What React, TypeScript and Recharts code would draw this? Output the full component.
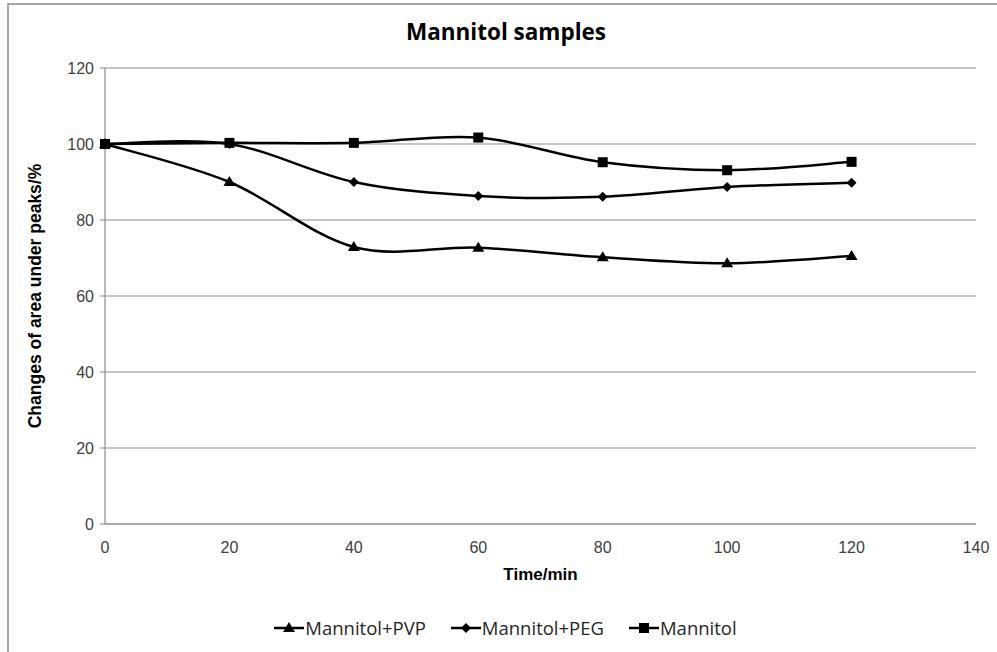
import React from "react";
import { CartesianGrid, Legend, Line, LineChart, XAxis, YAxis } from "recharts";

// time (min)
const times = [0, 20, 40, 60, 80, 100, 120];
// changes of area under peaks, %
const pvp = [100, 90, 72.9, 72.7, 70.2, 68.6, 70.5];
const peg = [100, 100, 90, 86.3, 86.1, 88.7, 89.8];
const mannitol = [100, 100.3, 100.3, 101.7, 95.2, 93.1, 95.3];
const xTicks = [0, 20, 40, 60, 80, 100, 120, 140];
const yTicks = [0, 20, 40, 60, 80, 100, 120];

const data = times.map((t, i) => ({ t, pvp: pvp[i], peg: peg[i], mannitol: mannitol[i] }));

const series = [
  { key: "pvp", name: "Mannitol+PVP", marker: "triangle" },
  { key: "peg", name: "Mannitol+PEG", marker: "diamond" },
  { key: "mannitol", name: "Mannitol", marker: "square" },
];

const ink = "#000";
const gridGray = "#8c8c8c";
const tickFont = "'Liberation Sans Narrow', 'Liberation Sans', sans-serif";

// excel-like smoothing (catmull-rom)
function smoothCurve(context: any) {
  let pts: number[][] = [];
  return {
    areaStart() {},
    areaEnd() {},
    lineStart() {
      pts = [];
    },
    point(x: number, y: number) {
      pts.push([+x, +y]);
    },
    lineEnd() {
      if (!pts.length) return;
      context.moveTo(pts[0][0], pts[0][1]);
      for (let i = 0; i < pts.length - 1; i++) {
        const p0 = pts[i - 1] || pts[i];
        const p1 = pts[i];
        const p2 = pts[i + 1];
        const p3 = pts[i + 2] || p2;
        context.bezierCurveTo(
          p1[0] + (p2[0] - p0[0]) / 6,
          p1[1] + (p2[1] - p0[1]) / 6,
          p2[0] - (p3[0] - p1[0]) / 6,
          p2[1] - (p3[1] - p1[1]) / 6,
          p2[0],
          p2[1]
        );
      }
    },
  };
}

function Marker({ kind, cx, cy }: { kind: string; cx: number; cy: number }) {
  if (kind === "square") return <rect x={cx - 5} y={cy - 5} width={10} height={10} fill={ink} />;
  if (kind === "diamond")
    return <polygon points={`${cx},${cy - 5} ${cx + 5},${cy} ${cx},${cy + 5} ${cx - 5},${cy}`} fill={ink} />;
  return <polygon points={`${cx},${cy - 6} ${cx + 6},${cy + 4} ${cx - 6},${cy + 4}`} fill={ink} />;
}

function LegendContent() {
  return (
    <div style={{ display: "flex", justifyContent: "center", gap: 24, fontFamily: "'Open Sans', sans-serif", fontSize: 18.5, color: "#262626" }}>
      {series.map((s) => (
        <div key={s.key} style={{ display: "flex", alignItems: "center" }}>
          <svg width={32} height={14}>
            <line x1={1} x2={31} y1={7} y2={7} stroke={ink} strokeWidth={2.5} />
            <Marker kind={s.marker} cx={16} cy={7} />
          </svg>
          <span>{s.name}</span>
        </div>
      ))}
    </div>
  );
}

export default function App() {
  return (
    <div style={{ position: "relative", width: 997, height: 652, background: "#fff" }}>
      <style>{"body{margin:0}"}</style>
      <svg width={997} height={652} style={{ position: "absolute", left: 0, top: 0 }}>
        <rect x={8} y={4} width={1000} height={700} fill="#fff" stroke="#8a8a8a" strokeWidth={1.5} />
      </svg>
      <div style={{ position: "absolute", left: 0, top: 0 }}>
        <LineChart width={997} height={652} data={data} margin={{ top: 68, right: 21, bottom: 66, left: 45 }}>
          <text x={506} y={40} textAnchor="middle" fontFamily="'Open Sans', sans-serif" fontWeight="bold" fontSize={22.5} fill="#000">
            Mannitol samples
          </text>
          <CartesianGrid vertical={false} stroke={gridGray} strokeWidth={1.2} />
          <XAxis
            dataKey="t"
            type="number"
            domain={[0, 140]}
            ticks={xTicks}
            tickLine={false}
            axisLine={{ stroke: gridGray, strokeWidth: 1.2 }}
            tickMargin={12}
            height={62}
            tick={{ fill: "#404040", fontSize: 16, fontFamily: tickFont }}
            label={{ value: "Time/min", position: "insideBottom", offset: 6, fill: "#000", fontSize: 17, fontWeight: "bold", fontFamily: tickFont }}
          />
          <YAxis
            type="number"
            domain={[0, 120]}
            ticks={yTicks}
            width={60}
            tickSize={5}
            tickLine={{ stroke: gridGray }}
            axisLine={{ stroke: gridGray, strokeWidth: 1.2 }}
            tickMargin={6}
            tick={{ fill: "#404040", fontSize: 16, fontFamily: tickFont }}
            label={{
              value: "Changes of area under peaks/%",
              angle: -90,
              position: "insideLeft",
              offset: -10,
              style: { textAnchor: "middle" },
              fill: "#000",
              fontSize: 17.5,
              fontWeight: "bold",
              fontFamily: "'Liberation Sans', Arial, sans-serif",
            }}
          />
          <Legend
            layout="horizontal"
            verticalAlign="middle"
            align="center"
            wrapperStyle={{ top: 615, left: 0, width: 1010 }}
            content={() => <LegendContent />}
          />
          {series.map((s) => (
            <Line
              key={s.key}
              dataKey={s.key}
              name={s.name}
              type={smoothCurve as any}
              stroke={ink}
              strokeWidth={2.5}
              isAnimationActive={false}
              dot={(p: any) => <Marker key={`${s.key}-${p.index}`} kind={s.marker} cx={p.cx} cy={p.cy} />}
              activeDot={false}
            />
          ))}
        </LineChart>
      </div>
    </div>
  );
}
